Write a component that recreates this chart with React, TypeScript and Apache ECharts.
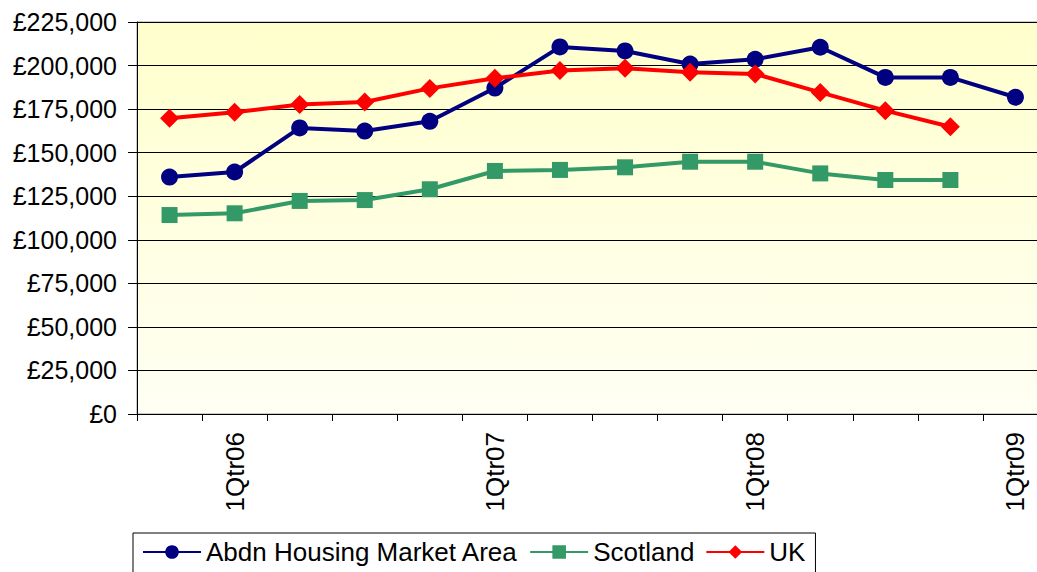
import React, { useEffect, useRef } from "react";
import * as echarts from "echarts";

const categories = [
  "4Qtr05", "1Qtr06", "2Qtr06", "3Qtr06", "4Qtr06", "1Qtr07", "2Qtr07",
  "3Qtr07", "4Qtr07", "1Qtr08", "2Qtr08", "3Qtr08", "4Qtr08", "1Qtr09",
];
const abdn = [136000, 138900, 164200, 162400, 168000, 187100, 210700, 208400, 200900, 203600, 210500, 193200, 193200, 181800];
const scotland = [114200, 115200, 122300, 122800, 129000, 139500, 140100, 141600, 144800, 144800, 138100, 134300, 134300, null];
const uk = [169700, 173200, 177700, 179100, 186900, 192700, 197100, 198400, 196100, 195200, 184600, 174100, 164900, null];

const FONT = 'Arial, "Liberation Sans", sans-serif';

function fmt(v: number): string {
  const s = String(Math.round(v));
  return "£" + s.replace(/\B(?=(\d{3})+(?!\d))/g, ",");
}

export default function App() {
  const ref = useRef<HTMLDivElement>(null);
  useEffect(() => {
    if (!ref.current) return;
    const chart = echarts.init(ref.current, null, { renderer: "svg" });
    chart.setOption({
      animation: false,
      textStyle: { fontFamily: FONT },
      grid: {
        left: 137,
        top: 22,
        width: 911,
        height: 392,
        show: true,
        borderColor: "#999999",
        borderWidth: 1,
        backgroundColor: new echarts.graphic.LinearGradient(0, 0, 0, 1, [
          { offset: 0, color: "#FFFFCC" },
          { offset: 1, color: "#FFFFF4" },
        ]),
      },
      legend: {
        left: 133,
        top: 533,
        orient: "horizontal",
        itemWidth: 58,
        itemHeight: 17,
        itemGap: 11,
        padding: [6, 10, 12, 9],
        borderColor: "#000000",
        borderWidth: 1,
        backgroundColor: "#ffffff",
        textStyle: { fontSize: 26, color: "#000000", fontFamily: FONT },
        data: ["Abdn Housing Market Area", "Scotland", "UK"],
      },
      xAxis: {
        type: "category",
        data: categories,
        boundaryGap: true,
        axisLine: { show: true, lineStyle: { color: "#000000", width: 1 } },
        axisTick: { show: true, interval: 0, length: 7, inside: false, lineStyle: { color: "#000000" } },
        axisLabel: {
          rotate: 90,
          margin: 18,
          fontSize: 26,
          color: "#000000",
          fontFamily: FONT,
          interval: (i: number) => i % 4 === 1,
        },
        splitLine: { show: false },
      },
      yAxis: {
        type: "value",
        min: 0,
        max: 225000,
        interval: 25000,
        axisLine: { show: true, lineStyle: { color: "#000000", width: 1 } },
        axisTick: { show: true, length: 9, lineStyle: { color: "#000000" } },
        axisLabel: {
          margin: 20,
          fontSize: 25,
          color: "#000000",
          fontFamily: FONT,
          formatter: (v: number) => fmt(v),
        },
        splitLine: { show: true, lineStyle: { color: "#000000", width: 1 } },
      },
      series: [
        {
          name: "Abdn Housing Market Area",
          type: "line",
          data: abdn,
          symbol: "circle",
          symbolSize: 17,
          lineStyle: { color: "#000080", width: 4 },
          itemStyle: { color: "#000080" },
          z: 3,
        },
        {
          name: "Scotland",
          type: "line",
          data: scotland,
          symbol: "rect",
          symbolSize: 16,
          lineStyle: { color: "#339966", width: 4 },
          itemStyle: { color: "#339966" },
          z: 2,
        },
        {
          name: "UK",
          type: "line",
          data: uk,
          symbol: "diamond",
          symbolSize: 19,
          lineStyle: { color: "#FF0000", width: 4 },
          itemStyle: { color: "#FF0000" },
          z: 4,
        },
      ],
    });
    return () => chart.dispose();
  }, []);
  return (
    <div style={{ position: "absolute", left: 0, top: 0, width: 1037, height: 572, overflow: "hidden", background: "#ffffff" }}>
      <div ref={ref} style={{ width: 1070, height: 572 }} />
    </div>
  );
}
